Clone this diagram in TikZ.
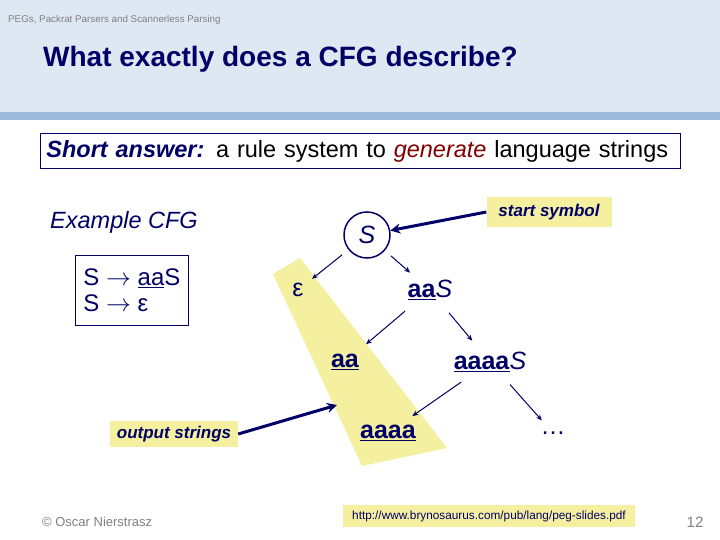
\documentclass[tikz,border=0pt]{standalone}
\usepackage{fontspec}
\setmainfont{Liberation Sans}
\usetikzlibrary{arrows.meta}
\definecolor{navy}{HTML}{000066}
\definecolor{hdr}{HTML}{DEE8F3}
\definecolor{bar}{HTML}{9DB9D9}
\definecolor{yel}{HTML}{F5F0A0}
\definecolor{darkred}{HTML}{800000}
\newcommand{\tm}[1]{\underline{\textbf{#1}}}
\begin{document}
\begin{tikzpicture}[x=1pt,y=-1pt,
  tree/.style={font=\fontsize{25}{30}\selectfont,text=navy,inner sep=2pt},
  edge/.style={draw=navy,line width=1pt,-{Stealth[length=6pt,width=5pt]},shorten <=8pt,shorten >=8pt},
  longedge/.style={edge,shorten <=14pt,shorten >=12pt},
  thick arrow/.style={draw=navy,line width=3pt,-{Stealth[length=10pt,width=10pt]}},
  note/.style={fill=yel,font=\bfseries\itshape\fontsize{17}{20}\selectfont,text=navy}]
\useasboundingbox (0,0) rectangle (720,540);
\fill[white] (0,0) rectangle (720,540);
\fill[hdr] (0,0) rectangle (720,112);
\fill[bar] (0,112) rectangle (720,120);
\node[anchor=west,text=gray,font=\fontsize{9.8}{12}\selectfont,inner sep=0pt] (hdrtxt) at (8,20) {PEGs, Packrat Parsers and Scannerless Parsing};
\node[anchor=west,text=navy,font=\bfseries\fontsize{28}{32}\selectfont,inner sep=0pt] (title) at (43,59) {What exactly does a CFG describe?};
\node[draw=navy,line width=0.8pt,anchor=west,text width=628pt,minimum height=35pt,inner sep=6pt,align=left,font=\fontsize{23.5}{26}\selectfont,text=black] (answer) at (40,151) {\textbf{\itshape\color{navy}Short answer:} a rule system to {\itshape\color{darkred}generate} language strings};
\node[anchor=west,text=navy,font=\itshape\fontsize{23.5}{26}\selectfont,inner sep=0pt] (ex) at (50,222) {Example CFG};
\node[draw=navy,line width=0.8pt,fill=white,anchor=north west,minimum width=113pt,minimum height=70pt,align=left,font=\fontsize{24}{26}\selectfont,text=navy,inner sep=4pt] (rules) at (75,255) {S $\rightarrow$ \underline{aa}S\\ S $\rightarrow$ ε};
\fill[yel] (273,274) -- (300,258) -- (447,448) -- (362,466) -- cycle;
\node[tree,draw=navy,line width=1.5pt,circle,minimum size=46pt,inner sep=0pt,font=\itshape\fontsize{25}{30}\selectfont] (S) at (367,235) {S};
\node[tree] (eps) at (298,290) {ε};
\node[tree] (aaS) at (430,290) {\tm{aa}\textit{S}};
\node[tree] (aa) at (345,362) {\tm{aa}};
\node[tree] (aaaaS) at (490,362) {\tm{aaaa}\textit{S}};
\node[tree] (aaaa) at (388,433) {\tm{aaaa}};
\node[tree] (dots) at (553,433) {\dots};
\draw[edge] (S) -- (eps);
\draw[edge] (S) -- (aaS);
\draw[longedge] (aaS) -- (aa);
\draw[longedge] (aaS) -- (aaaaS);
\draw[longedge] (aaaaS) -- (aaaa);
\draw[longedge] (aaaaS) -- (dots);
\node[note,minimum width=125pt,minimum height=30pt] (start) at (549,212) {start symbol};
\node[note,minimum width=128pt,minimum height=26pt] (out) at (174,434) {output strings};
\coordinate (outtip) at (337,405);
\draw[thick arrow] (start.west) -- (S);
\draw[thick arrow] (out.east) -- (outtip);
\node[fill=yel,minimum width=292pt,minimum height=22pt,font=\fontsize{11.8}{14}\selectfont,text=navy] (url) at (489,516) {http://www.brynosaurus.com/pub/lang/peg-slides.pdf};
\node[anchor=west,text=gray,font=\fontsize{13}{15}\selectfont,inner sep=0pt] (copy) at (42,522) {© Oscar Nierstrasz};
\node[text=gray,font=\fontsize{15}{17}\selectfont] (pg) at (695,522) {12};
\end{tikzpicture}
\end{document}
